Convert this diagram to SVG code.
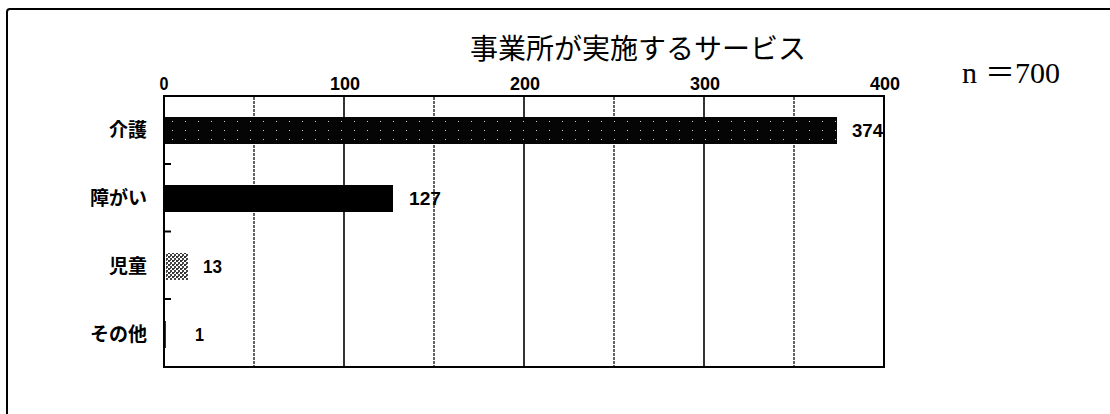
<svg xmlns="http://www.w3.org/2000/svg" width="1110" height="414" viewBox="0 0 1110 414">
<style>
.frame{fill:none;stroke:#000;stroke-width:2}
.grid-solid{stroke:#000;stroke-width:1.6}
.grid-dot{stroke:#222;stroke-width:1.4;stroke-dasharray:3 1}
.axis{fill:none;stroke:#000;stroke-width:2}
.tick{stroke:#000;stroke-width:2}
.num{font-family:"Liberation Sans",Arial,sans-serif;font-size:19px;font-weight:bold;fill:#000}
.cat{font-family:"Noto Sans CJK JP","Noto Sans",sans-serif;font-size:19px;font-weight:bold;fill:#000;text-anchor:end}
.title{font-family:"Noto Sans CJK JP","Noto Sans",sans-serif;font-size:28px;fill:#000;text-anchor:middle}
.n{font-family:"Liberation Serif","Noto Sans CJK JP",serif;font-size:30px;fill:#000}
</style>
<defs>
<pattern id="stipple" width="13" height="9" patternUnits="userSpaceOnUse">
<rect width="13" height="9" fill="#050505"/>
<rect x="3" y="4" width="1" height="1" fill="#ccc"/>
</pattern>
<pattern id="grey" width="4" height="4" patternUnits="userSpaceOnUse">
<rect width="4" height="4" fill="#fff"/>
<rect width="2" height="2" fill="#333"/>
<rect x="2" y="2" width="2" height="2" fill="#444"/>
<rect x="2" y="0" width="1" height="1" fill="#555"/>
</pattern>
</defs>
<rect width="1110" height="414" fill="#fff"/>
<rect class="frame" x="7" y="9" width="1200" height="500" rx="3"/>
<g id="title">
<text class="title" x="638" y="59">事業所が実施するサービス</text>
<text class="n" y="83"><tspan x="962">n</tspan><tspan x="985">＝</tspan><tspan x="1015">700</tspan></text>
</g>
<g id="axis-labels" class="num" text-anchor="middle">
<text x="164" y="90" textLength="9" lengthAdjust="spacingAndGlyphs">0</text>
<text x="345" y="90" textLength="30" lengthAdjust="spacingAndGlyphs">100</text>
<text x="525" y="90" textLength="30" lengthAdjust="spacingAndGlyphs">200</text>
<text x="705" y="90" textLength="30" lengthAdjust="spacingAndGlyphs">300</text>
<text x="885" y="90" textLength="30" lengthAdjust="spacingAndGlyphs">400</text>
</g>
<g id="grid">
<line class="grid-dot" x1="254" y1="97" x2="254" y2="366"/>
<line class="grid-solid" x1="344" y1="97" x2="344" y2="366"/>
<line class="grid-dot" x1="434" y1="97" x2="434" y2="366"/>
<line class="grid-solid" x1="524" y1="97" x2="524" y2="366"/>
<line class="grid-dot" x1="614" y1="97" x2="614" y2="366"/>
<line class="grid-solid" x1="704" y1="97" x2="704" y2="366"/>
<line class="grid-dot" x1="794" y1="97" x2="794" y2="366"/>
</g>
<g id="bar-kaigo">
<rect x="164" y="117" width="673" height="27" fill="url(#stipple)"/>
<text class="cat" x="147" y="137">介護</text>
<text class="num" x="852" y="137" textLength="31" lengthAdjust="spacingAndGlyphs">374</text>
</g>
<g id="bar-shogai">
<rect x="164" y="185" width="229" height="27" fill="#000"/>
<text class="cat" x="147" y="205">障がい</text>
<text class="num" x="409" y="205" textLength="32" lengthAdjust="spacingAndGlyphs">127</text>
</g>
<g id="bar-jido">
<rect x="166" y="253" width="22" height="27" fill="url(#grey)"/>
<text class="cat" x="147" y="273">児童</text>
<text class="num" x="203" y="273" textLength="19" lengthAdjust="spacingAndGlyphs">13</text>
</g>
<g id="bar-sonota">
<rect x="164" y="321" width="1.8" height="27" fill="#000"/>
<text class="cat" x="147" y="341">その他</text>
<text class="num" x="195" y="341" textLength="9" lengthAdjust="spacingAndGlyphs">1</text>
</g>
<g id="plot-frame">
<rect class="axis" x="164" y="96" width="720" height="271"/>
<line class="tick" x1="164" y1="164" x2="171" y2="164"/>
<line class="tick" x1="164" y1="231.5" x2="171" y2="231.5"/>
<line class="tick" x1="164" y1="299" x2="171" y2="299"/>
</g>
</svg>
